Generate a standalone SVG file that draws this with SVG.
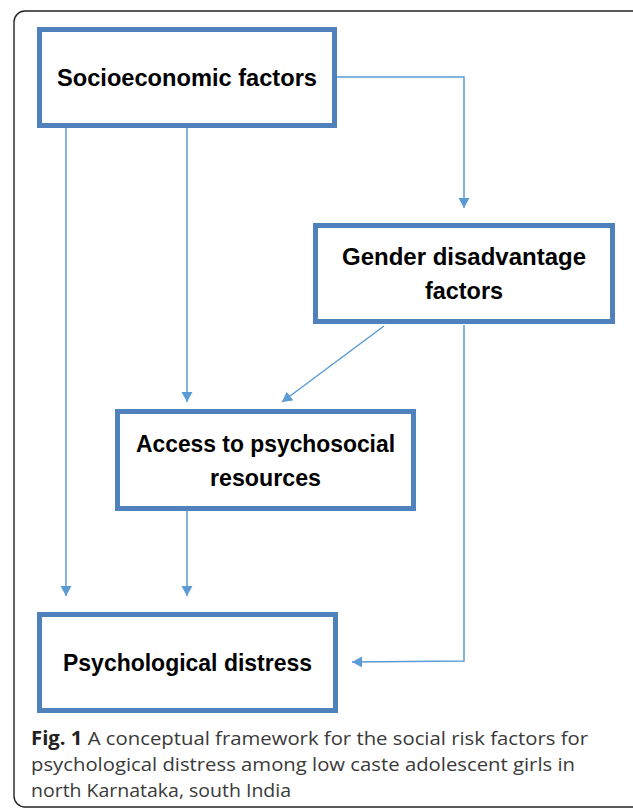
<svg xmlns="http://www.w3.org/2000/svg" width="633" height="808" viewBox="0 0 633 808">
  <defs>
    <marker id="arr" markerUnits="userSpaceOnUse" markerWidth="11" markerHeight="12" refX="10" refY="5.5" orient="auto">
      <path d="M0,0 L10,5.5 L0,11 z" fill="#5B9BD5"/>
    </marker>
    <style>
      .box { fill: #ffffff; stroke: #4F81BD; stroke-width: 5; }
      .lbl { font-family: "Liberation Sans", Arial, sans-serif; font-weight: bold; font-size: 24.5px; fill: #000000; text-anchor: middle; }
      .conn { fill: none; stroke: #5B9BD5; stroke-width: 1.5; marker-end: url(#arr); }
      .cap { font-family: "Open Sans", "Noto Sans", sans-serif; font-size: 19px; fill: #3a3a3a; }
    </style>
  </defs>
  <rect x="0" y="0" width="633" height="808" fill="#ffffff"/>
  <rect x="14" y="11" width="640" height="796" rx="11" ry="11" fill="none" stroke="#222222" stroke-width="1.4"/>

  <g id="connectors">
    <path class="conn" d="M337,77 L464,77 L464,208"/>
    <path class="conn" d="M187,128 L187,402"/>
    <path class="conn" d="M66,128 L66,596"/>
    <path class="conn" d="M384,326 L282,402"/>
    <path class="conn" d="M464,325 L464,661 L352,662"/>
    <path class="conn" d="M187,511 L187,596"/>
  </g>

  <g id="socioeconomic">
    <rect class="box" x="39.5" y="29.5" width="295" height="96"/>
    <text class="lbl" x="187" y="86" textLength="260" lengthAdjust="spacingAndGlyphs">Socioeconomic factors</text>
  </g>

  <g id="gender">
    <rect class="box" x="315.5" y="225.5" width="297" height="96"/>
    <text class="lbl" x="464" y="265" textLength="244" lengthAdjust="spacingAndGlyphs">Gender disadvantage</text>
    <text class="lbl" x="464" y="299" textLength="78" lengthAdjust="spacingAndGlyphs">factors</text>
  </g>

  <g id="access">
    <rect class="box" x="117.5" y="411.5" width="296" height="97"/>
    <text class="lbl" x="265.5" y="452" textLength="259" lengthAdjust="spacingAndGlyphs">Access to psychosocial</text>
    <text class="lbl" x="265.5" y="486" textLength="111" lengthAdjust="spacingAndGlyphs">resources</text>
  </g>

  <g id="distress">
    <rect class="box" x="39.5" y="614.5" width="296" height="96"/>
    <text class="lbl" x="187.5" y="671" textLength="249" lengthAdjust="spacingAndGlyphs">Psychological distress</text>
  </g>

  <g id="caption">
    <text class="cap" x="31" y="745" textLength="557" lengthAdjust="spacingAndGlyphs"><tspan font-weight="bold" fill="#222222">Fig. 1</tspan> A conceptual framework for the social risk factors for</text>
    <text class="cap" x="31" y="771" textLength="544" lengthAdjust="spacingAndGlyphs">psychological distress among low caste adolescent girls in</text>
    <text class="cap" x="31" y="797" textLength="260" lengthAdjust="spacingAndGlyphs">north Karnataka, south India</text>
  </g>
</svg>
